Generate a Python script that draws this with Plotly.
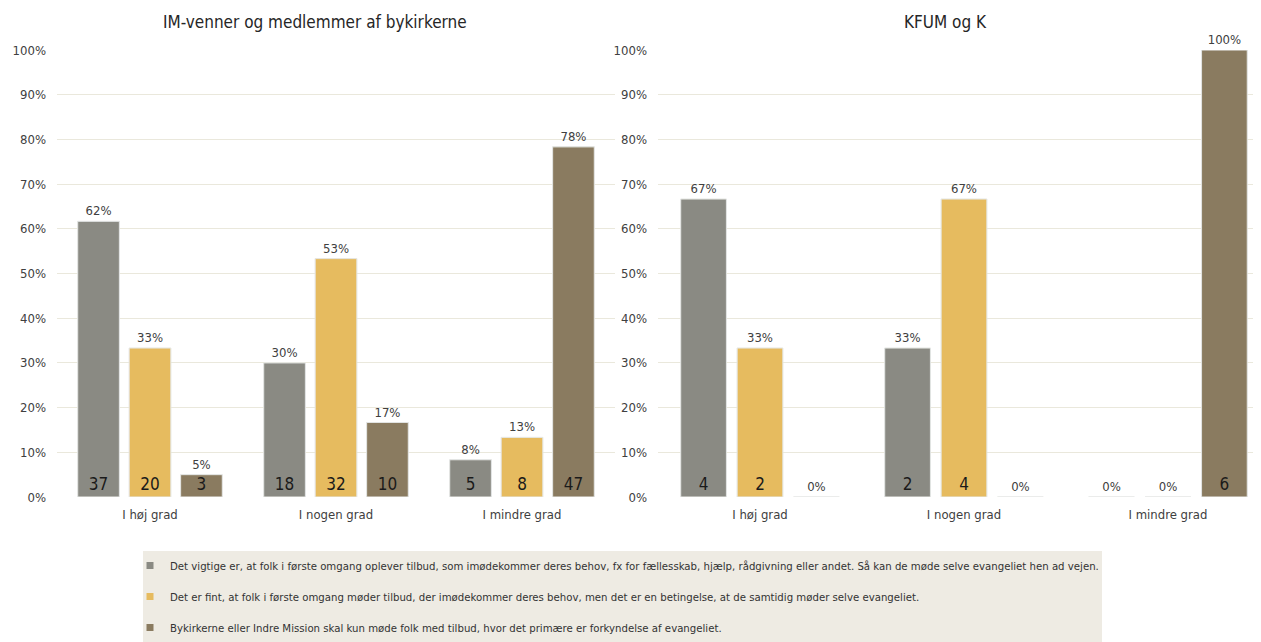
import plotly.graph_objects as go
from plotly.subplots import make_subplots

categories = ["I høj grad", "I nogen grad", "I mindre grad"]
series_names = [
    "Det vigtige er, at folk i første omgang oplever tilbud, som imødekommer deres behov, fx for fællesskab, hjælp, rådgivning eller andet. Så kan de møde selve evangeliet hen ad vejen.",
    "Det er fint, at folk i første omgang møder tilbud, der imødekommer deres behov, men det er en betingelse, at de samtidig møder selve evangeliet.",
    "Bykirkerne eller Indre Mission skal kun møde folk med tilbud, hvor det primære er forkyndelse af evangeliet.",
]
titles = ["IM-venner og medlemmer af bykirkerne", "KFUM og K"]

# counts per series (rows) per category (columns)
im_counts = [
    [37, 18, 5],
    [20, 32, 8],
    [3, 10, 47],
]
kfum_counts = [
    [4, 2, 0],
    [2, 4, 0],
    [0, 0, 6],
]

colors = ["#8a8a83", "#e6bb5f", "#8a7b60"]
FONT = "Liberation Sans Narrow, Arial Narrow, DejaVu Sans Condensed, sans-serif"
TXT = "#404040"
GRID = "#EAE8DC"

W, H = 1253, 634  # page adds an 8px body margin

fig = make_subplots(rows=1, cols=2, horizontal_spacing=0.0)

for col, counts in enumerate([im_counts, kfum_counts], start=1):
    for i, row in enumerate(counts):
        total = sum(row)
        shares = [v / total for v in row]
        fig.add_trace(
            go.Bar(
                x=categories, y=shares, name=series_names[i],
                marker=dict(color=colors[i], line=dict(color="#E4E1D4", width=0.8)),
                offsetgroup=f"s{i}", legendgroup=f"s{i}", showlegend=False,
                text=[f"{s:.0%}" for s in shares], textposition="outside",
                textangle=0,
                textfont=dict(size=13, color=TXT, family=FONT),
                constraintext="none", cliponaxis=False, hoverinfo="skip",
            ),
            row=1, col=col,
        )
        fig.add_trace(
            go.Bar(
                x=categories, y=shares, name=series_names[i],
                marker=dict(color="rgba(0,0,0,0)"),
                offsetgroup=f"s{i}", legendgroup=f"s{i}", showlegend=False,
                text=[str(v) if v else "" for v in row], textposition="inside",
                insidetextanchor="start", textangle=0,
                textfont=dict(size=17, color="#1a1a1a", family=FONT),
                constraintext="none", cliponaxis=False, hoverinfo="skip",
            ),
            row=1, col=col,
        )

# legend entries with small square keys
for i, name in enumerate(series_names):
    fig.add_trace(
        go.Scatter(
            x=[None], y=[None], mode="markers", name=name,
            marker=dict(symbol="square", size=7, color=colors[i]),
            legendgroup=f"s{i}", showlegend=True, hoverinfo="skip",
        ),
        row=1, col=1,
    )

fig.update_layout(
    width=W, height=H,
    margin=dict(l=0, r=0, t=42, b=145),
    paper_bgcolor="white", plot_bgcolor="white",
    barmode="group", bargap=0.17, bargroupgap=0.19,
    font=dict(family=FONT, color=TXT, size=13),
    legend=dict(
        orientation="v", x=122 / W, xanchor="left", y=-0.122, yanchor="top",
        bgcolor="rgba(0,0,0,0)", font=dict(size=11.3, color="#333333", family=FONT),
        tracegroupgap=12, itemwidth=30,
    ),
    shapes=[dict(type="rect", xref="paper", yref="paper",
                 x0=135 / W, x1=1094 / W, y0=-0.33, y1=-0.1208,
                 fillcolor="#EEEBE3", line=dict(width=0), layer="below")],
)

for col, title in enumerate(titles):
    fig.add_annotation(
        text=title, x=(315 - 8 + 630 * col) / W, y=1.063, xref="paper", yref="paper",
        xanchor="center", yanchor="middle", showarrow=False,
        font=dict(size=17, color="#262626", family=FONT),
    )

fig.update_xaxes(showgrid=False, showline=False, zeroline=False, ticks="",
                 tickfont=dict(size=13, color=TXT), ticklabelstandoff=8)
fig.update_xaxes(domain=[49 / W, 607 / W], row=1, col=1)
fig.update_xaxes(domain=[650 / W, 1.0], range=[-0.5, 2.456], row=1, col=2)
fig.update_yaxes(range=[0, 1], dtick=0.1, tickformat=".0%", showgrid=True,
                 gridcolor=GRID, gridwidth=1, zeroline=False, showline=False,
                 ticks="", tickfont=dict(size=13, color=TXT), ticklabelstandoff=10)

fig.write_html("out.html")
